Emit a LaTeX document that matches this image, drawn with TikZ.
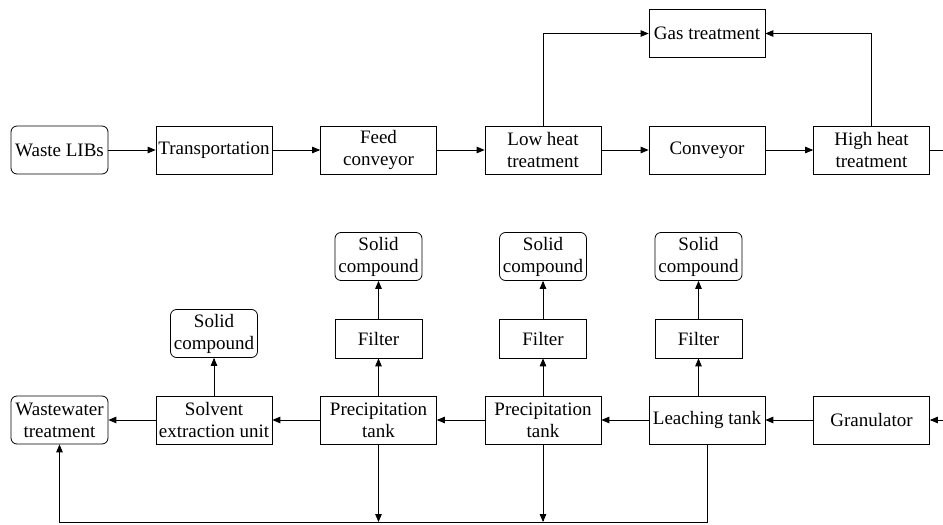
\documentclass[tikz,border=0pt]{standalone}
\usepackage{fontspec}
\setmainfont{Liberation Serif}
\usetikzlibrary{arrows}

\tikzset{
  proc/.style={draw,rectangle,align=center,inner sep=1pt,minimum width=116pt,minimum height=48pt},
  term/.style={proc,rounded corners=6pt,minimum width=97pt},
  filt/.style={draw,rectangle,align=center,minimum width=87pt,minimum height=39pt},
  solid/.style={draw,rectangle,rounded corners=6pt,align=center,inner sep=1pt,minimum width=87pt,minimum height=48pt}
}

\begin{document}
\begin{tikzpicture}[x=1pt,y=-1pt,>=triangle 45,line width=0.8pt,font=\fontsize{19pt}{22pt}\selectfont]

\useasboundingbox (0,0) rectangle (943,525);

% upper line
\node[term] (waste) at (59.5,150) {Waste LIBs};
\node[proc] (trans) at (214,150) {Transportation};
\node[proc] (feed) at (378.5,150) {Feed\\conveyor};
\node[proc] (low) at (543,150) {Low heat\\treatment};
\node[proc] (conv) at (707,150) {Conveyor};
\node[proc] (high) at (871.5,150) {High heat\\treatment};
\node[proc] (gas) at (707,33.5) {Gas treatment};
\coordinate (outR) at (943,150);

\draw[->] (waste) -- (trans);
\draw[->] (trans) -- (feed);
\draw[->] (feed) -- (low);
\draw[->] (low) -- (conv);
\draw[->] (conv) -- (high);
\draw (high) -- (outR);
\draw[->] (low.north) |- (gas);
\draw[->] (high.north) |- (gas);

% lower line
\node[term] (wwt) at (59.5,420) {Wastewater\\treatment};
\node[proc] (solv) at (214,420) {Solvent\\extraction unit};
\node[proc] (prec1) at (378.5,420) {Precipitation\\tank};
\node[proc] (prec2) at (543,420) {Precipitation\\tank};
\node[proc] (leach) at (707,420) {Leaching tank};
\node[proc] (gran) at (871.5,420) {Granulator};
\coordinate (inR) at (943,420);

\node[filt] (filt1) at (378.5,338.5) {Filter};
\node[filt] (filt2) at (543,338.5) {Filter};
\node[filt] (filt3) at (698.5,338.5) {Filter};
\node[solid] (sol1) at (378.5,256.5) {Solid\\compound};
\node[solid] (sol2) at (543,256.5) {Solid\\compound};
\node[solid] (sol3) at (698.5,256.5) {Solid\\compound};
\node[solid] (sol0) at (214,333.5) {Solid\\compound};

\draw[->] (inR) -- (gran);
\draw[->] (gran) -- (leach);
\draw[->] (leach) -- (prec2);
\draw[->] (prec2) -- (prec1);
\draw[->] (prec1) -- (solv);
\draw[->] (solv) -- (wwt);

\draw[->] (solv) -- (sol0);
\draw[->] (prec1) -- (filt1);
\draw[->] (filt1) -- (sol1);
\draw[->] (prec2) -- (filt2);
\draw[->] (filt2) -- (sol2);
\draw[->] (filt3 |- leach.north) -- (filt3);
\draw[->] (filt3) -- (sol3);

% return line at the bottom
\coordinate (sink) at (0,522);
\draw[->] (leach.south) -- (leach.south |- sink) -| (wwt.south);
\draw[->] (prec1.south) -- (prec1.south |- sink);
\draw[->] (prec2.south) -- (prec2.south |- sink);

\end{tikzpicture}
\end{document}
